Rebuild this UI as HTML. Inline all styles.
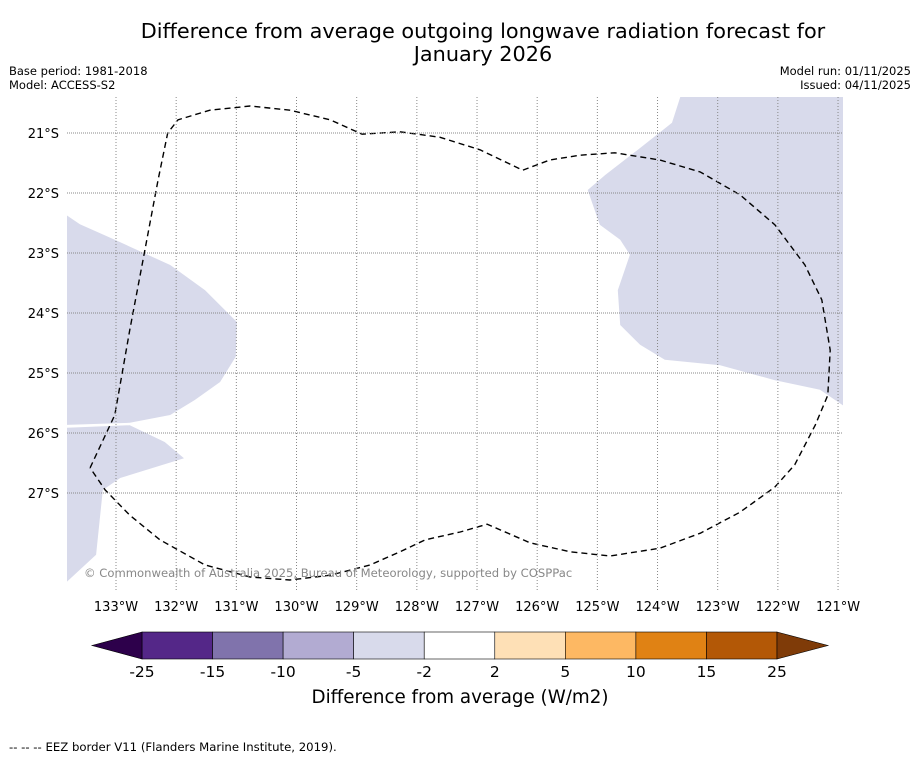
<!DOCTYPE html>
<html><head><meta charset="utf-8"><style>
body{margin:0;background:#fff;font-family:"Liberation Sans","DejaVu Sans",sans-serif}
svg text{font-family:"DejaVu Sans","Liberation Sans",sans-serif}
</style></head><body>
<svg id="c" width="919" height="758" viewBox="0 0 919 758" xmlns="http://www.w3.org/2000/svg">
<rect width="919" height="758" fill="#fff"/>
<text x="483" y="38" text-anchor="middle" font-size="20.8">Difference from average outgoing longwave radiation forecast for</text>
<text x="483" y="61" text-anchor="middle" font-size="20.8">January 2026</text>
<text x="9" y="75" font-size="11.5">Base period: 1981-2018</text>
<text x="9" y="89" font-size="11.5">Model: ACCESS-S2</text>
<text x="911" y="75" font-size="11.5" text-anchor="end">Model run: 01/11/2025</text>
<text x="911" y="89" font-size="11.5" text-anchor="end">Issued: 04/11/2025</text>
<defs><clipPath id="pc"><rect x="67" y="97" width="776" height="493"/></clipPath></defs>
<g id="map" clip-path="url(#pc)"></g>
<g id="axes"></g>
<text x="84" y="577" font-size="11.6" fill="#888">© Commonwealth of Australia 2025, Bureau of Meteorology, supported by COSPPac</text>
<g id="cbar"></g>
<text x="460" y="703" text-anchor="middle" font-size="18.3">Difference from average (W/m2)</text>
<text x="9" y="751" font-size="11.7">--  --  -- EEZ border V11 (Flanders Marine Institute, 2019).</text>
</svg>
<script>
const lonTicks=[133,132,131,130,129,128,127,126,125,124,123,122,121];
const latTicks=[21,22,23,24,25,26,27];
const cbBounds=[-25,-15,-10,-5,-2,2,5,10,15,25];
const cbColors=["#542788","#8073ac","#b2abd2","#d8daeb","#ffffff","#fee0b6","#fdb863","#e08214","#b35806"];
const cbExt=["#2d004b","#7f3b08"];
const shadeLeftLon=[134,133.6,133.02,132.1,131.52,130.99,131.01,131.27,131.69,132.1,132.77,134,134,132.77,132.19,131.87,132.93,133.22,133.33,134];
const shadeLeftLat=[22.25,22.52,22.78,23.2,23.62,24.15,24.73,25.15,25.45,25.7,25.83,25.87,25.92,25.87,26.15,26.42,26.75,26.95,28.03,28.65];
const shadeRightLon=[123.59,120.8,120.8,121.3,122.05,122.96,123.88,124.29,124.62,124.66,124.46,124.62,124.96,125.16,124.87,124.29,123.76];
const shadeRightLat=[20.3,20.3,25.62,25.28,25.12,24.87,24.78,24.53,24.2,23.62,23.03,22.78,22.53,21.95,21.7,21.25,20.83];
const eezLon=[133.43,133.02,132.77,132.52,132.3,132.14,131.97,131.44,130.77,130.11,129.44,128.91,128.28,127.62,126.95,126.24,125.79,125.29,124.71,123.96,123.29,122.63,122.05,121.55,121.27,121.13,121.17,121.38,121.72,122.05,122.63,123.29,123.96,124.79,125.45,126.12,126.83,127.28,127.86,128.28,128.78,129.44,130.11,130.77,131.52,132.27,132.77,133.18,133.43];
const eezLat=[26.58,25.7,24.28,22.95,21.78,21.0,20.78,20.62,20.55,20.62,20.78,21.02,20.98,21.07,21.28,21.62,21.45,21.37,21.33,21.45,21.65,22.03,22.53,23.2,23.78,24.62,25.37,25.87,26.53,26.9,27.32,27.67,27.92,28.05,27.98,27.83,27.52,27.65,27.78,27.98,28.2,28.37,28.45,28.4,28.2,27.78,27.37,26.95,26.58];
const NS="http://www.w3.org/2000/svg";
const X=lonW=>116+(133-lonW)*60.17;
const Y=latS=>133+(latS-21)*60;
const cbX=i=>142+i*(635/9);
function mk(t,a,p){const e=document.createElementNS(NS,t);for(const k in a)e.setAttribute(k,a[k]);p.appendChild(e);return e;}
const map=document.getElementById('map'),axes=document.getElementById('axes'),cb=document.getElementById('cbar');
function pts(lo,la){return lo.map((v,i)=>X(v).toFixed(1)+','+Y(la[i]).toFixed(1)).join(' ');}
let p=mk('polygon',{points:pts(shadeLeftLon,shadeLeftLat),fill:'#d8daeb'},map);


p=mk('polygon',{points:pts(shadeRightLon,shadeRightLat),fill:'#d8daeb'},map);


lonTicks.forEach(l=>{
 const g=mk('line',{x1:X(l),x2:X(l),y1:97,y2:590,stroke:'#888','stroke-width':1,'stroke-dasharray':'1,2'},axes);
 
 
 const t=mk('text',{x:X(l),y:611,'text-anchor':'middle','font-size':13},axes);t.textContent=l+'°W';
 
 
});
latTicks.forEach(l=>{
 const g=mk('line',{x1:67,x2:843,y1:Y(l),y2:Y(l),stroke:'#888','stroke-width':1,'stroke-dasharray':'1,1'},axes);
 
 
 const t=mk('text',{x:59,y:Y(l)+5,'text-anchor':'end','font-size':13},axes);t.textContent=l+'°S';
 
 
});
const eez=mk('polyline',{points:pts(eezLon,eezLat),fill:'none',stroke:'#000','stroke-width':1.4,'stroke-dasharray':'6,4'},map);


cbColors.forEach((c,i)=>{
 const r=mk('rect',{x:cbX(i),y:632,width:635/9,height:27,fill:c,stroke:'#000','stroke-width':0.6},cb);
 
 
});
let tr=mk('polygon',{points:`142,632 92,645.5 142,659`,fill:cbExt[0],stroke:'#000','stroke-width':0.6},cb);


tr=mk('polygon',{points:`777,632 828,645.5 777,659`,fill:cbExt[1],stroke:'#000','stroke-width':0.6},cb);


cbBounds.forEach((b,i)=>{
 const t=mk('text',{x:cbX(i),y:677,'text-anchor':'middle','font-size':15.5},cb);t.textContent=b;
 
 
});
</script>
</body></html>
